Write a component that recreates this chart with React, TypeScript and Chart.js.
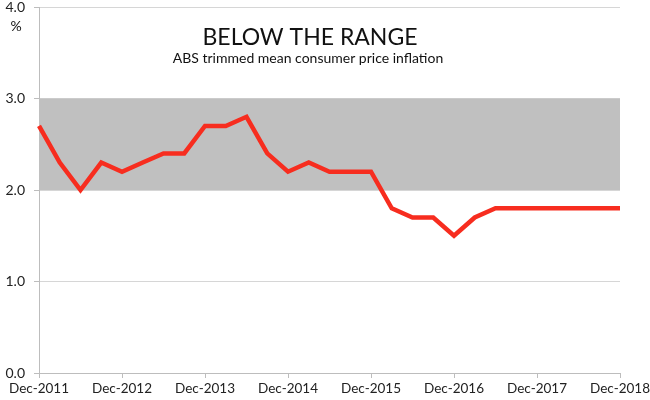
import { useEffect, useRef } from "react";
import { Chart, registerables } from "chart.js";

Chart.register(...registerables);

const QUARTERS = [
  "Dec-2011", "Mar-2012", "Jun-2012", "Sep-2012",
  "Dec-2012", "Mar-2013", "Jun-2013", "Sep-2013",
  "Dec-2013", "Mar-2014", "Jun-2014", "Sep-2014",
  "Dec-2014", "Mar-2015", "Jun-2015", "Sep-2015",
  "Dec-2015", "Mar-2016", "Jun-2016", "Sep-2016",
  "Dec-2016", "Mar-2017", "Jun-2017", "Sep-2017",
  "Dec-2017", "Mar-2018", "Jun-2018", "Sep-2018",
  "Dec-2018",
];

const TRIMMED_MEAN = [
  2.7, 2.3, 2.0, 2.3,
  2.2, 2.3, 2.4, 2.4,
  2.7, 2.7, 2.8, 2.4,
  2.2, 2.3, 2.2, 2.2,
  2.2, 1.8, 1.7, 1.7,
  1.5, 1.7, 1.8, 1.8,
  1.8, 1.8, 1.8, 1.8,
  1.8,
];

const TARGET_BAND = [2, 3];
const Y_MIN = 0;
const Y_MAX = 4;
const Y_STEP = 1;
const TITLE = "BELOW THE RANGE";
const SUBTITLE = "ABS trimmed mean consumer price inflation";
const UNIT = "%";

const FONT = "Lato, 'Noto Sans', sans-serif";

const bandPlugin = {
  id: "bandPlugin",
  beforeDatasetsDraw(chart: any) {
    const { ctx, chartArea, scales } = chart;
    const y = scales.y;
    const top = y.getPixelForValue(TARGET_BAND[1]);
    const bottom = y.getPixelForValue(TARGET_BAND[0]);
    ctx.save();
    ctx.fillStyle = "#c0c0c0";
    ctx.fillRect(chartArea.left, top, chartArea.right - chartArea.left, bottom - top);
    ctx.restore();
  },
  afterDraw(chart: any) {
    const { ctx } = chart;
    ctx.save();
    ctx.fillStyle = "#111";
    ctx.textAlign = "center";
    ctx.textBaseline = "middle";
    ctx.font = `23px ${FONT}`;
    ctx.fillText(TITLE, 310, 38);
    ctx.font = `14px ${FONT}`;
    ctx.fillText(SUBTITLE, 308, 58);
    ctx.fillText(UNIT, 16, 26);
    ctx.restore();
  },
};

export default function App() {
  const ref = useRef<HTMLCanvasElement>(null);
  useEffect(() => {
    if (!ref.current) return;
    const chart = new Chart(ref.current, {
      type: "line",
      data: {
        labels: QUARTERS,
        datasets: [
          {
            data: TRIMMED_MEAN,
            borderColor: "#f72d1f",
            borderWidth: 4.5,
            pointRadius: 0,
            tension: 0,
            fill: false,
            borderJoinStyle: "miter",
          },
        ],
      },
      options: {
        animation: false,
        responsive: false,
        maintainAspectRatio: false,
        layout: { padding: { top: 7, right: 30, left: 0, bottom: 0 } },
        plugins: { legend: { display: false }, tooltip: { enabled: false } },
        scales: {
          x: {
            offset: false,
            border: { color: "#bdbdbd", width: 1 },
            grid: {
              drawOnChartArea: false,
              tickLength: 5,
              color: (c: any) => (c.index % 4 === 0 ? "#bdbdbd" : "rgba(0,0,0,0)"),
            },
            ticks: {
              autoSkip: false,
              maxRotation: 0,
              padding: 3,
              color: "#222",
              font: { family: FONT, size: 13.5 },
              callback: (_v: any, i: number) => (i % 4 === 0 ? QUARTERS[i] : ""),
            },
            afterFit: (s: any) => {
              s.height = 27;
              s.paddingLeft = 0;
              s.paddingRight = 0;
            },
          },
          y: {
            min: Y_MIN,
            max: Y_MAX,
            border: { color: "#bdbdbd", width: 1 },
            grid: { color: "#d6d6d6", tickLength: 5, tickColor: "#bdbdbd" },
            ticks: {
              stepSize: Y_STEP,
              padding: 9,
              color: "#222",
              font: { family: FONT, size: 14 },
              callback: (v: any) => Number(v).toFixed(1),
            },
            afterFit: (s: any) => {
              s.width = 39;
              s.paddingTop = 0;
              s.paddingBottom = 0;
            },
          },
        },
      },
      plugins: [bandPlugin],
    } as any);
    return () => chart.destroy();
  }, []);
  return (
    <div style={{ position: "absolute", left: 0, top: 0, width: 650, height: 400, background: "#fff" }}>
      <canvas ref={ref} width={650} height={400} style={{ width: 650, height: 400 }} />
    </div>
  );
}
